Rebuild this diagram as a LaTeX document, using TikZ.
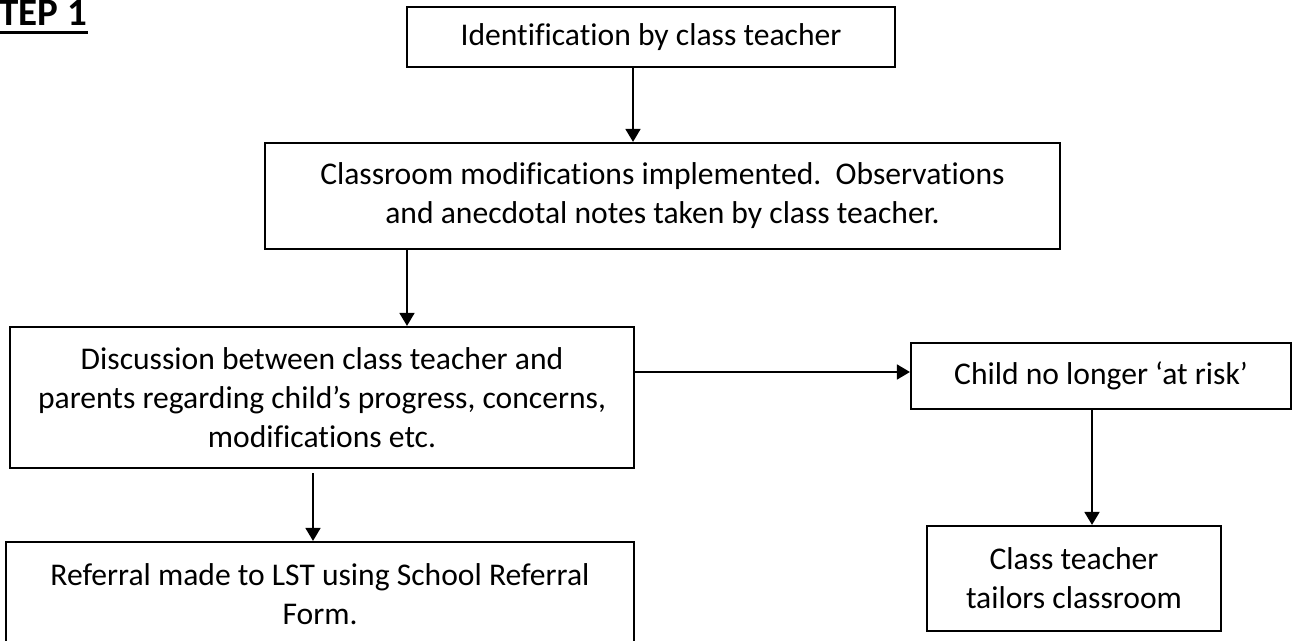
\documentclass[tikz,border=0pt]{standalone}
\usepackage{fontspec}
\setmainfont[Ligatures=NoCommon]{Carlito}
\frenchspacing
\usetikzlibrary{shapes, arrows.meta, positioning}

\begin{document}
\begin{tikzpicture}[x=0.5pt, y=-0.5pt, >={Triangle[length=6.5pt,width=7.5pt]}]

\tikzstyle{block} = [draw, shape=rectangle, align=center, inner sep=0pt, line width=1.1pt, font=\fontsize{15.8}{19.5}\selectfont]
\tikzstyle{link} = [->, line width=0.9pt]

\useasboundingbox (0,0) rectangle (1294,641);

%Heading
\node [anchor=base west, inner sep=0pt, font=\fontsize{19.5}{22}\selectfont\bfseries] at (-19,26) (step) {STEP 1};
\draw [line width=1.5pt] ([yshift=-3.2pt]step.base west) -- ([yshift=-3.2pt]step.base east);

%Creating Blocks
\node [block, minimum width=244pt, minimum height=30pt] at (651,37) (ident) {Identification by class teacher};
\node [block, minimum width=397.5pt, minimum height=53pt] at (662.5,196) (modif) {Classroom modifications implemented.\ \ Observations\\ and anecdotal notes taken by class teacher.};
\node [block, minimum width=312pt, minimum height=70.5pt] at (322,397.5) (discuss) {Discussion between class teacher and\\ parents regarding child’s progress, concerns,\\ modifications etc.};
\node [block, minimum width=314pt, minimum height=52pt] at (320,594) (referral) {Referral made to LST using School Referral\\ Form.};
\node [block, minimum width=190pt, minimum height=33pt] at (1101,376) (norisk) {Child no longer ‘at risk’};
\node [block, minimum width=147pt, minimum height=52.5pt] at (1074,578.5) (tailor) {Class teacher\\ tailors classroom};

%Connection points
\coordinate (c1) at (633,0);
\coordinate (c2) at (407,0);
\coordinate (c3) at (313,0);
\coordinate (c4) at (0,372);
\coordinate (c5) at (1092,0);

%Conecting Blocks
\draw [link] (ident.south -| c1) -- (modif.north -| c1);
\draw [link] (modif.south -| c2) -- (discuss.north -| c2);
\draw [link] ([yshift=-2pt]discuss.south -| c3) -- (referral.north -| c3);
\draw [link] (discuss.east |- c4) -- (norisk.west |- c4);
\draw [link] (norisk.south -| c5) -- (tailor.north -| c5);
\end{tikzpicture}
\end{document}
